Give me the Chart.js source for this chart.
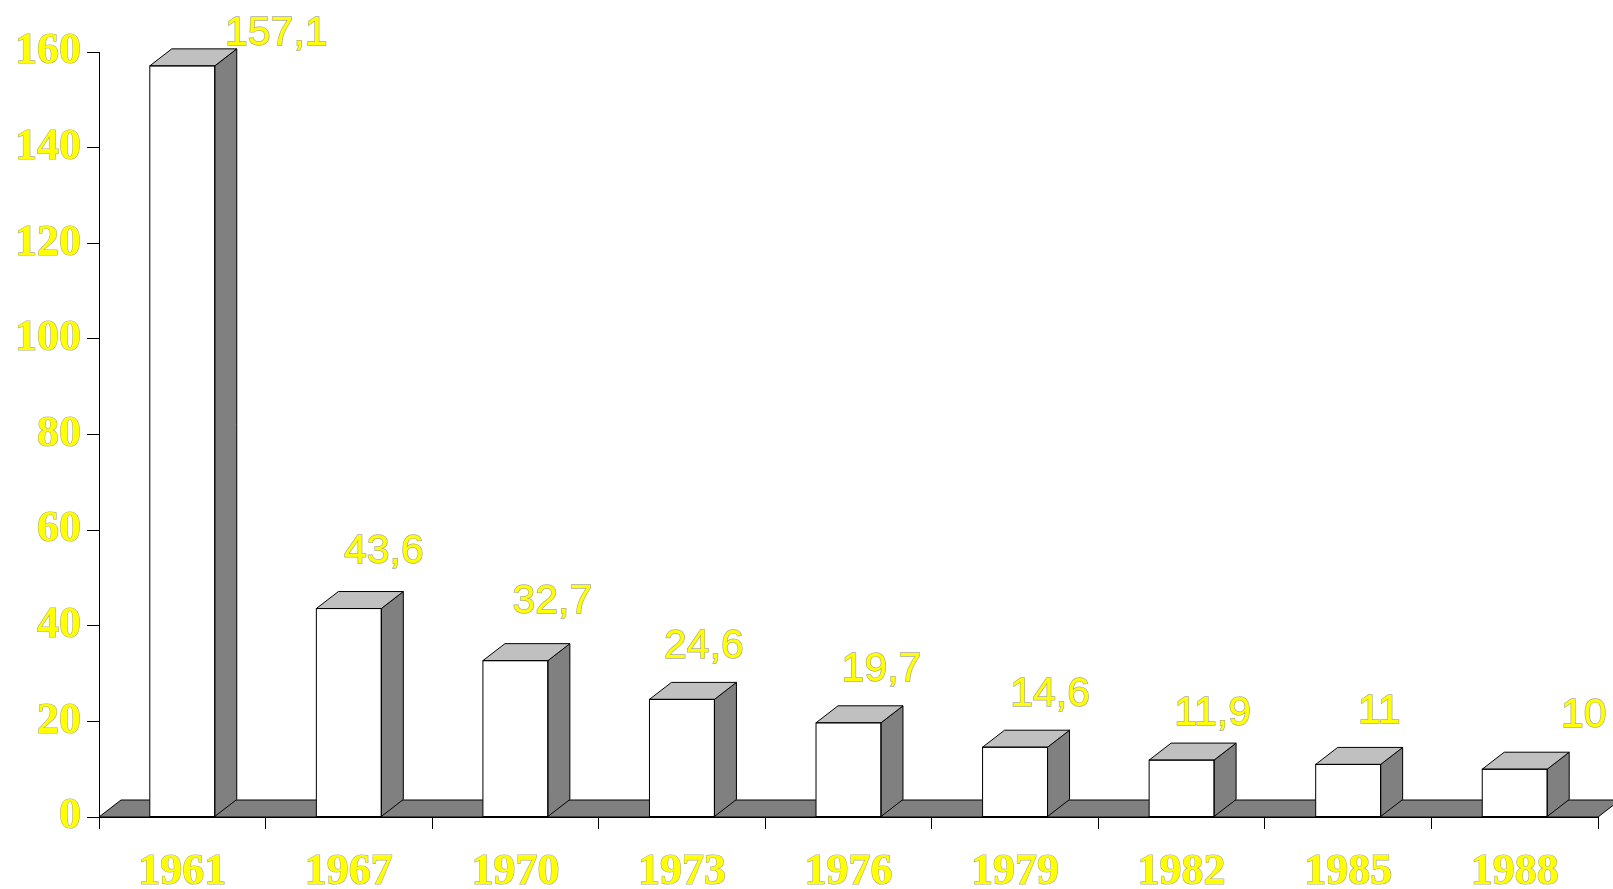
<!DOCTYPE html>
<html>
<head>
<meta charset="utf-8">
<style>
html,body{margin:0;padding:0;background:#fff;overflow:hidden;}
#wrap{width:1613px;height:889px;}
</style>
<script src="https://cdn.jsdelivr.net/npm/chart.js@4/dist/chart.umd.min.js"></script>
</head>
<body>
<div id="wrap"><canvas id="c" width="1613" height="889"></canvas></div>
<script>
const years = ['1961','1967','1970','1973','1976','1979','1982','1985','1988'];
const values = [157.1, 43.6, 32.7, 24.6, 19.7, 14.6, 11.9, 11, 10];
const yMin = 0, yMax = 160, yStep = 20;

// label placement tweaks (style only)
const labelDx = [94, 35, 37, 22, 33, 35, 31, 31, 69];
const labelDy = [-15, -40, -42, -36, -36, -36, -29, -36, -37];

const DX = 22, DY = 17;

const floorPlugin = {
  id: 'floor3d',
  beforeDatasetsDraw(chart) {
    const ctx = chart.ctx, a = chart.chartArea;
    const base = chart.scales.y.getPixelForValue(0);
    ctx.save();
    ctx.beginPath();
    ctx.moveTo(a.left, base);
    ctx.lineTo(a.left + DX, base - DY);
    ctx.lineTo(a.right + DX, base - DY);
    ctx.lineTo(a.right, base);
    ctx.closePath();
    ctx.fillStyle = '#808080';
    ctx.fill();
    ctx.strokeStyle = '#000';
    ctx.lineWidth = 1;
    ctx.stroke();
    ctx.restore();
  },
  afterDatasetsDraw(chart) {
    const ctx = chart.ctx;
    const meta = chart.getDatasetMeta(0);
    ctx.save();
    ctx.lineWidth = 1;
    ctx.strokeStyle = '#000';
    meta.data.forEach((bar, i) => {
      const p = bar.getProps(['x','y','base','width'], true);
      const xl = p.x - p.width/2, xr = p.x + p.width/2;
      const top = p.y, base = p.base;
      ctx.beginPath();
      ctx.moveTo(xr, top);
      ctx.lineTo(xr + DX, top - DY);
      ctx.lineTo(xr + DX, base - DY);
      ctx.lineTo(xr, base);
      ctx.closePath();
      ctx.fillStyle = '#808080';
      ctx.fill();
      ctx.stroke();
      ctx.beginPath();
      ctx.moveTo(xl, top);
      ctx.lineTo(xl + DX, top - DY);
      ctx.lineTo(xr + DX, top - DY);
      ctx.lineTo(xr, top);
      ctx.closePath();
      ctx.fillStyle = '#c0c0c0';
      ctx.fill();
      ctx.stroke();
      ctx.strokeRect(xl, top, p.width, base - top);
    });
    ctx.font = '41px "Liberation Sans", Arial, sans-serif';
    ctx.textAlign = 'center';
    ctx.textBaseline = 'middle';
    meta.data.forEach((bar, i) => {
      const p = bar.getProps(['x','y'], true);
      const txt = String(values[i]).replace('.', ',');
      const x = p.x + labelDx[i];
      const y = p.y - DY + labelDy[i];
      ctx.lineWidth = 1.4;
      ctx.strokeStyle = 'rgba(150,150,110,0.8)';
      ctx.strokeText(txt, x, y);
      ctx.fillStyle = '#ffff00';
      ctx.fillText(txt, x, y);
    });
    ctx.restore();
  }
};

new Chart(document.getElementById('c'), {
  type: 'bar',
  data: {
    labels: years,
    datasets: [{
      data: values,
      backgroundColor: '#ffffff',
      borderColor: '#000000',
      borderWidth: 0,
      barPercentage: 0.39,
      categoryPercentage: 1.0
    }]
  },
  plugins: [floorPlugin],
  options: {
    responsive: false,
    animation: false,
    layout: { padding: { top: 52, right: 15, left: 0, bottom: 0 } },
    plugins: { legend: { display: false }, tooltip: { enabled: false } },
    scales: {
      x: {
        afterFit(s) { s.height = 72; },
        grid: { offset: true, drawOnChartArea: false, tickLength: 12, color: '#000', lineWidth: 1 },
        border: { display: true, color: '#000', width: 1 },
        ticks: {
          color: '#ffff00',
          textStrokeColor: 'rgba(150,150,110,0.8)',
          textStrokeWidth: 1.2,
          font: { family: '"Liberation Serif", "Times New Roman", serif', size: 44, weight: 'bold' },
          padding: 17, maxRotation: 0, autoSkip: false
        }
      },
      y: {
        min: yMin, max: yMax,
        afterFit(s) { s.width = 99; },
        grid: { drawOnChartArea: false, tickLength: 12, color: '#000', lineWidth: 1 },
        border: { display: true, color: '#000', width: 1 },
        ticks: {
          stepSize: yStep,
          color: '#ffff00',
          textStrokeColor: 'rgba(150,150,110,0.8)',
          textStrokeWidth: 1.2,
          font: { family: '"Liberation Serif", "Times New Roman", serif', size: 44, weight: 'bold' },
          padding: 6
        }
      }
    }
  }
});
</script>
</body>
</html>
